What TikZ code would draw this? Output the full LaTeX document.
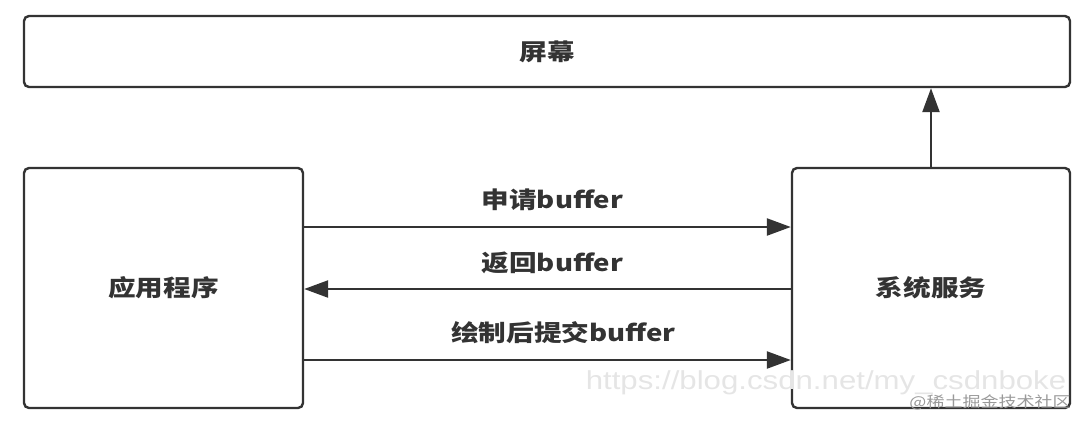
\documentclass[tikz,border=0pt]{standalone}
\usepackage{fontspec}
\newfontfamily\cjk{Noto Sans CJK SC}[FakeStretch=1.2]
\newfontfamily\wmfont{Liberation Sans}[FakeStretch=1.2]
\usetikzlibrary{arrows.meta,positioning}
\definecolor{ink}{HTML}{333333}
\begin{document}
\begin{tikzpicture}[x=1pt,y=-1pt,
  box/.style={draw=ink,line width=2.4pt,rounded corners=5pt,inner sep=0pt,text=ink,
    font=\cjk\bfseries\fontsize{23}{23}\selectfont},
  flow/.style={draw=ink,line width=2.4pt,-{Triangle[length=24pt,width=17pt]}},
  tag/.style={inner sep=0pt,text=ink,font=\cjk\bfseries\fontsize{23}{23}\selectfont}]
\useasboundingbox (0,0) rectangle (1090,424);
\node[box,minimum width=1046pt,minimum height=71pt] (screen) at (547,51.5) {屏幕};
\node[box,minimum width=279pt,minimum height=240pt] (app) at (163.5,288) {应用程序};
\node[box,minimum width=278pt,minimum height=240pt] (sys) at (931,288) {系统服务};

\draw[flow] ([yshift=61pt]app.east) -- node[tag,xshift=5pt,yshift=27pt] (ask) {申请buffer} ([yshift=61pt]sys.west);
\draw[flow] ([yshift=-1pt]sys.west) -- node[tag,xshift=5pt,yshift=26pt] (back) {返回buffer} ([yshift=-1pt]app.east);
\draw[flow] ([yshift=-72pt]app.east) -- node[tag,xshift=16pt,yshift=27pt] (post) {绘制后提交buffer} ([yshift=-72pt]sys.west);
\draw[flow] (sys.north) -- (sys.north |- screen.south);

% watermarks
\node[inner sep=0pt,text=black!10,font=\wmfont\fontsize{26}{26}\selectfont] (wmurl) at (826,383) {https://blog.csdn.net/my\_csdnboke};
\node[inner sep=0pt,text=black!40,font=\cjk\fontsize{15}{15}\selectfont] (wmsite) at (990,402) {@稀土掘金技术社区};
\end{tikzpicture}
\end{document}
